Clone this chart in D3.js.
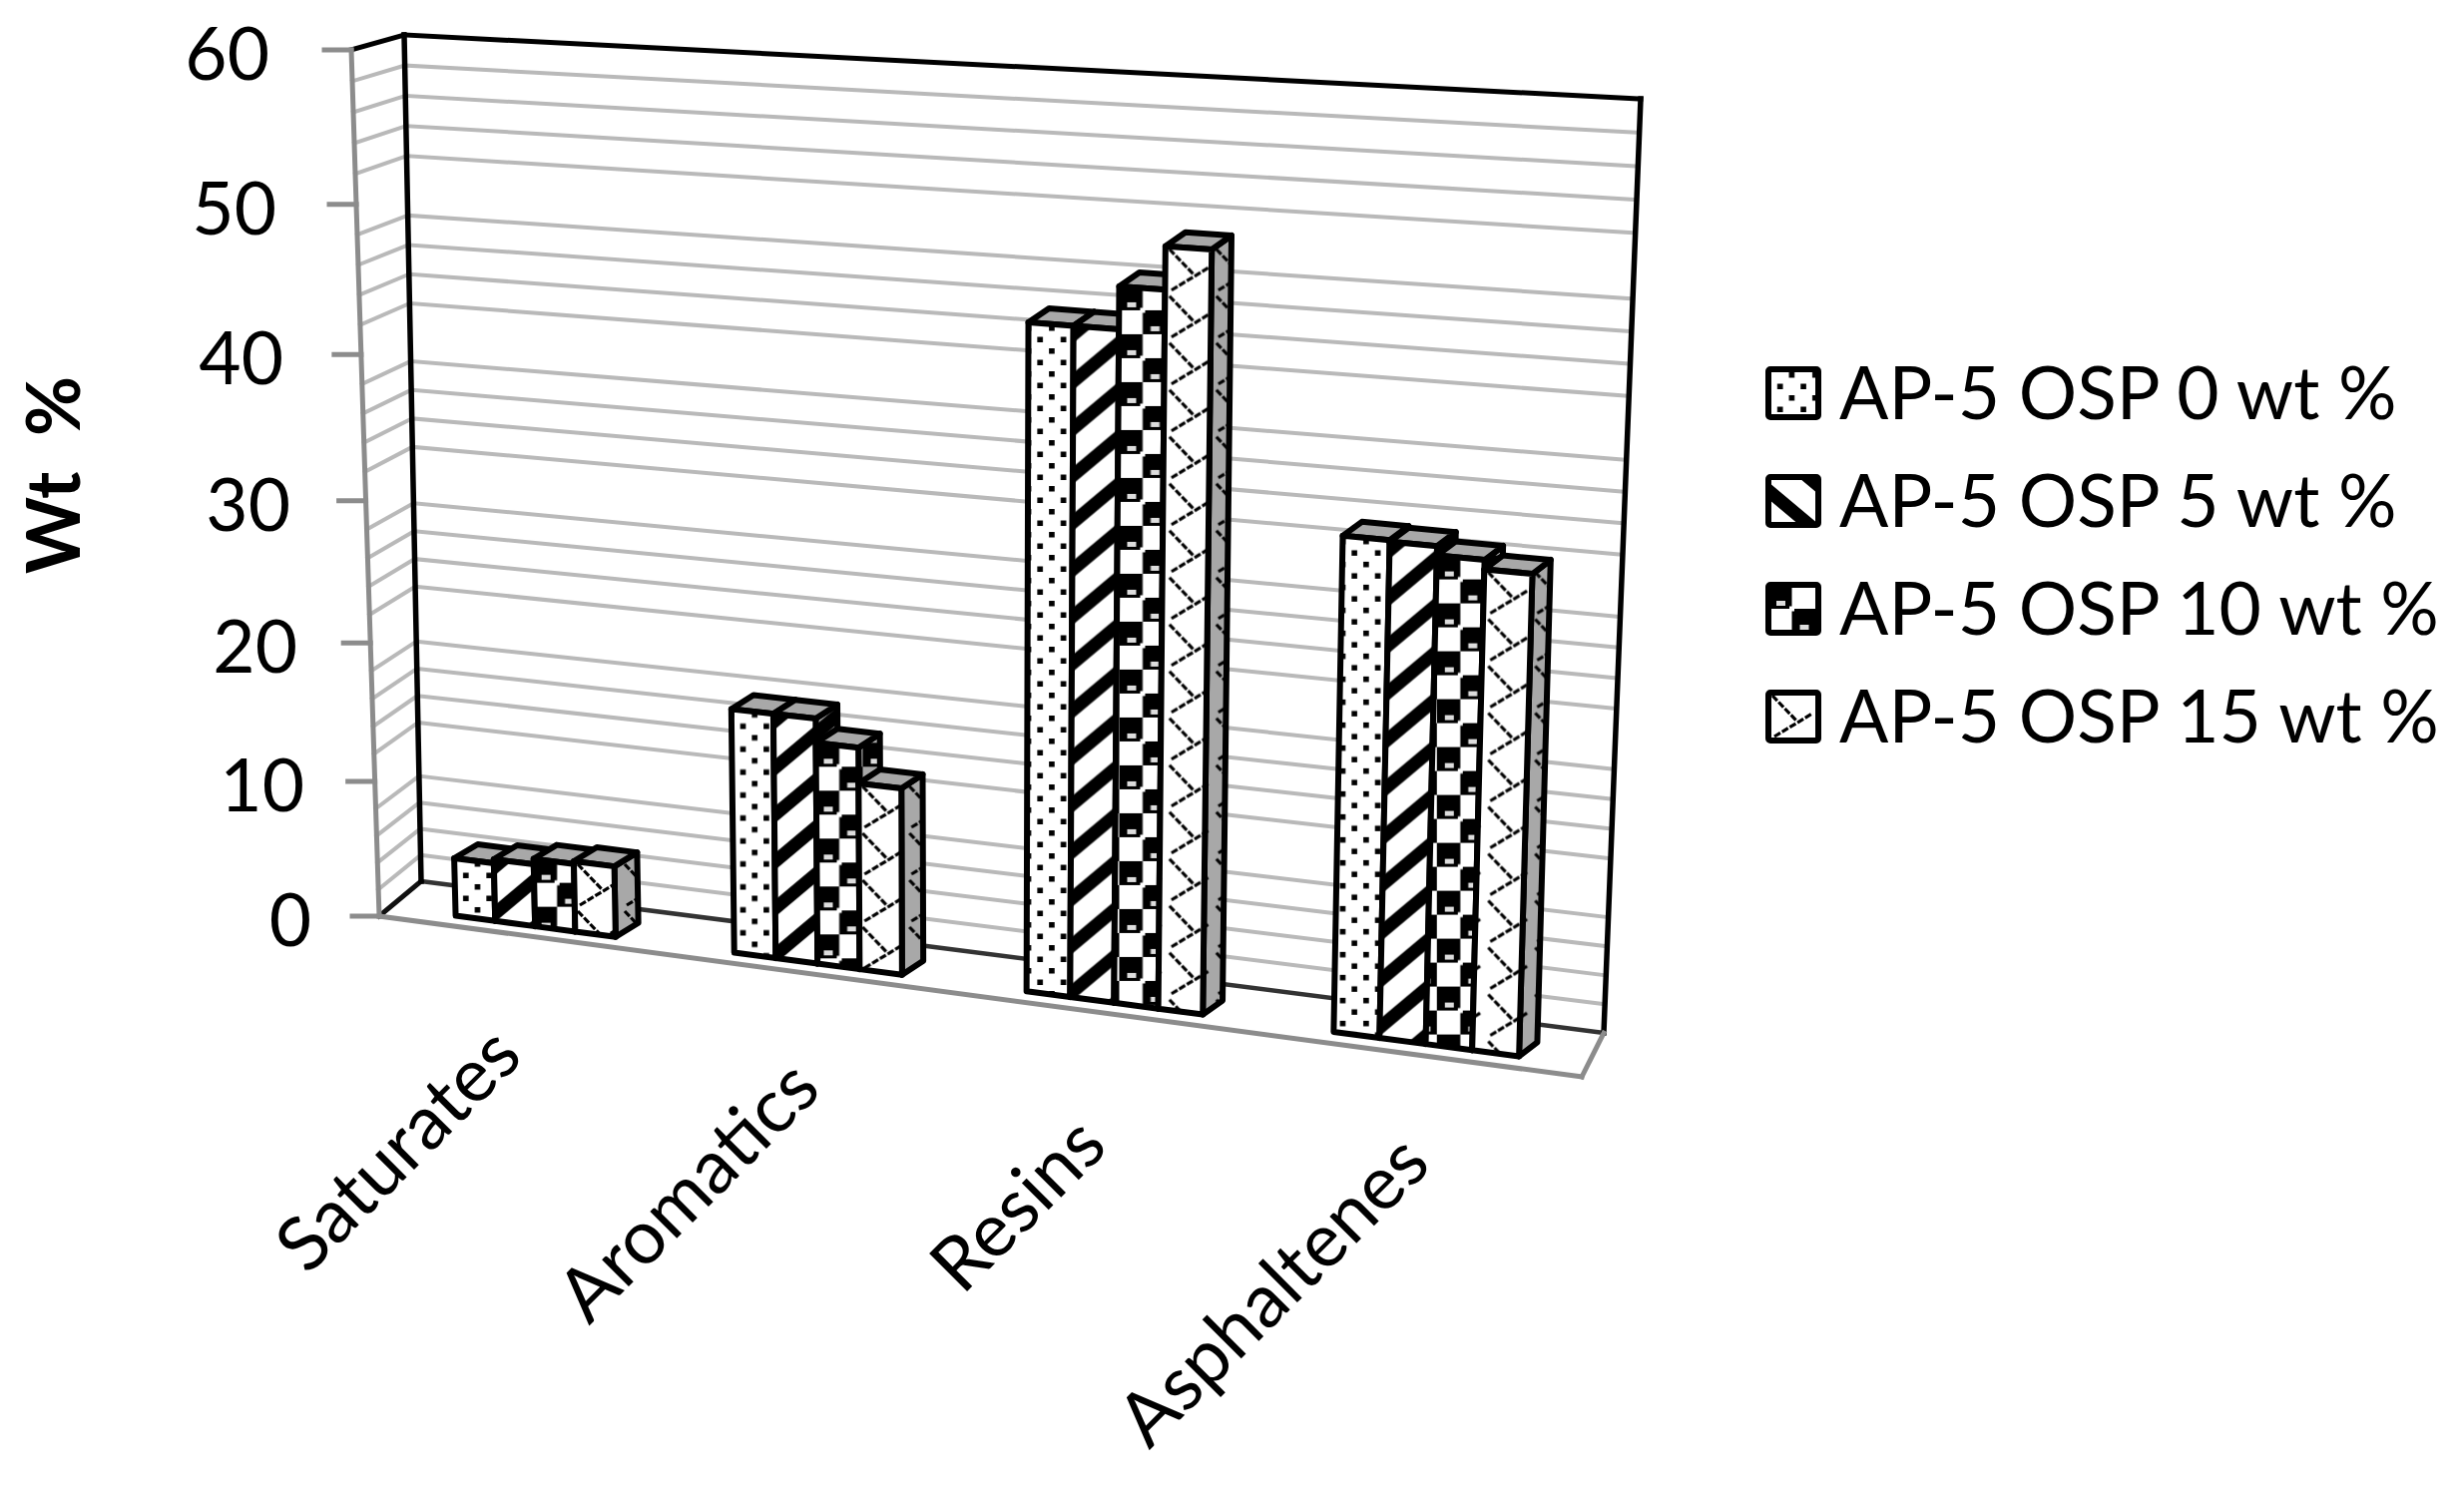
<!DOCTYPE html>
<html>
<head>
<meta charset="utf-8">
<script src="https://cdn.jsdelivr.net/npm/d3@7"></script>
<style>
  html, body { margin: 0; background: #fff; }
  text { font-family: Lato, "Open Sans", sans-serif; fill: #000; }
</style>
</head>
<body>
<script>
const categories = ["Saturates", "Aromatics", "Resins", "Asphaltenes"]
const seriesNames = ["AP-5 OSP 0 wt %", "AP-5 OSP 5 wt %", "AP-5 OSP 10 wt %", "AP-5 OSP 15 wt %"]
const osp0 = [4.3, 17.5, 45.2, 33.3]
const osp5 = [4.6, 17.5, 45.2, 33.2]
const osp10 = [5.0, 15.8, 47.9, 32.6]
const osp15 = [5.2, 13.3, 50.6, 32]
const seriesValues = [osp0, osp5, osp10, osp15]
const majorTicks = [0, 10, 20, 30, 40, 50, 60]
const minorTicks = d3.range(2, 60, 2).filter((d) => d % 10 !== 0)

const width = 2469
const height = 1491

const GRID = "#b9b9b9"
const AXIS = "#8c8c8c"
const SHADE = "#a8a8a8"

// Corners of the 3D box as Excel drew it: back wall and the plane at the front of the floor
const backWall = quadMap([422, 883], [1607, 1035], [1644, 99], [405, 35])
const frontWall = quadMap([380, 918], [1585, 1079], [1612, 125], [352, 50])

// Unit square -> quad, plain projective map (u along categories, v up)
function quadMap(p00, p10, p11, p01) {
  const dx1 = p10[0] - p11[0], dx2 = p01[0] - p11[0], sx = p00[0] - p10[0] + p11[0] - p01[0]
  const dy1 = p10[1] - p11[1], dy2 = p01[1] - p11[1], sy = p00[1] - p10[1] + p11[1] - p01[1]
  const den = dx1 * dy2 - dx2 * dy1
  const g = (sx * dy2 - dx2 * sy) / den
  const h = (dx1 * sy - sx * dy1) / den
  const a = p10[0] - p00[0] + g * p10[0], b = p01[0] - p00[0] + h * p01[0]
  const d = p10[1] - p00[1] + g * p10[1], e = p01[1] - p00[1] + h * p01[1]
  return (u, v) => {
    const w = g * u + h * v + 1
    return [(a * u + b * v + p00[0]) / w, (d * u + e * v + p00[1]) / w]
  }
}

const valueScale = d3.scaleLinear().domain([0, 60]).range([0, 1])
const catScale = d3.scaleBand().domain(categories).range([0.008, 1]).paddingInner(0.42).paddingOuter(0.21)
const barScale = d3.scaleBand().domain(d3.range(4)).range([0, catScale.bandwidth()])
const barFront = 0.74 // bar front plane, 0 = back wall, 1 = front edge of the floor

// f: 0 at the back wall, 1 at the front edge of the floor
function project(u, value, f) {
  const t = valueScale(value)
  const v = t / (t + (1 - t) * 1.04) // gridlines spread out a little going up
  const b = backWall(u, v)
  const a = frontWall(u, v)
  return [b[0] + (a[0] - b[0]) * f, b[1] + (a[1] - b[1]) * f]
}

const svg = d3.select("body").append("svg")
  .attr("width", width)
  .attr("height", height)
  .style("display", "block")

const defs = svg.append("defs")

function pattern(id, w, h, bg) {
  const p = defs.append("pattern")
    .attr("id", id)
    .attr("patternUnits", "userSpaceOnUse")
    .attr("width", w)
    .attr("height", h)
  p.append("rect").attr("width", w).attr("height", h).attr("fill", bg)
  return p
}

function addDots(id, bg) {
  const p = pattern(id, 23.4, 23, bg)
  p.append("path").attr("fill", "#000")
    .attr("d", "M-2.8,3h5.6v5.6h-5.6zM20.6,3h5.6v5.6h-5.6zM8.9,14.5h5.6v5.6h-5.6z")
}
function addStripes(id, bg) {
  const p = pattern(id, 56, 47, bg)
  p.append("path").attr("fill", "#000")
    .attr("d", "M0,47L56,0V17L0,64ZM0,0L56,-47V-30L0,17Z")
}
function addChecks(id, bg) {
  const p = pattern(id, 47, 48, bg)
  p.append("path").attr("fill", "#000").attr("d", "M0,0h23.5v24H0zM23.5,24H47v24H23.5z")
  p.append("path").attr("fill", "#ddd").attr("d", "M8,16h9v5H8zM31.5,40h9v5h-9z")
  p.append("path").attr("fill", "#fff").attr("d", "M21,21.5h5v5h-5z")
}
function addLattice(id, bg) {
  const p = pattern(id, 47, 47, bg)
  p.append("path").attr("fill", "none").attr("stroke", "#000")
    .attr("stroke-width", 3.2).attr("stroke-dasharray", "7 2")
    .attr("d", "M4,3L28,28M6,44L44,21")
}

const patternMakers = [addDots, addStripes, addChecks, addLattice]
patternMakers.forEach((make, i) => {
  make(`front${i}`, "#fff")
  make(`side${i}`, SHADE)
})

// walls and floor
const frame = svg.append("g").attr("fill", "none").attr("stroke-linecap", "square")
const line = (a, b, color, w) => frame.append("path")
  .attr("d", d3.line()([a, b]))
  .attr("stroke", color)
  .attr("stroke-width", w)

minorTicks.forEach((d) => {
  line(project(0, d, 0), project(1, d, 0), GRID, 4)
  line(project(0, d, 1), project(0, d, 0), GRID, 4)
})

line(project(0, 0, 0), project(1, 0, 0), "#333", 4.5)
line(project(0, 0, 1), project(0, 0, 0), "#111", 5)
line(project(0, 60, 1), project(0, 60, 0), "#000", 5)
line(project(0, 60, 0), project(1, 60, 0), "#000", 5)
line(project(0, 0, 0), project(0, 60, 0), "#000", 5.5)
line(project(1, 0, 0), project(1, 60, 0), "#000", 5.5)
line(project(0, 0, 1), project(0, 60, 1), AXIS, 5)
line(project(0, 0, 1), project(1, 0, 1), AXIS, 5)
line(project(1, 0, 1), project(1, 0, 0), AXIS, 5)

// value axis, labels drift right with the leaning axis
const labelRight = d3.scaleLinear().domain([60, 0]).range([270, 312])
majorTicks.forEach((d) => {
  const [x, y] = project(0, d, 1)
  line([x - 27, y], [x, y], AXIS, 5)
  svg.append("text")
    .attr("x", labelRight(d))
    .attr("y", y + 30)
    .attr("text-anchor", "end")
    .attr("font-size", 73)
    .text(d)
})

svg.append("text")
  .attr("transform", "translate(80,476) rotate(-90)")
  .attr("text-anchor", "middle")
  .attr("font-size", 74)
  .attr("font-weight", 700)
  .attr("xml:space", "preserve")
  .attr("textLength", 198)
  .attr("lengthAdjust", "spacingAndGlyphs")
  .text("Wt  %")

// category labels
const labelEnds = [[526, 1061], [825, 1094], [1112, 1151], [1436, 1169]]
categories.forEach((c, i) => {
  svg.append("text")
    .attr("transform", `translate(${labelEnds[i]}) rotate(-45)`)
    .attr("text-anchor", "end")
    .attr("font-size", 75)
    .text(c)
})

// bars, left to right so each one covers the side of the one before
const barPath = d3.line()
categories.forEach((c, ci) => {
  seriesValues.forEach((vals, si) => {
    const u0 = catScale(c) + barScale(si)
    const u1 = u0 + barScale.bandwidth()
    const val = vals[ci]
    // the depth of a bar on screen, a bit shallower toward the right of the chart
    const back = (p, u) => [p[0] + 24 - 6 * u, p[1] - 14]
    const fbl = project(u0, 0, barFront), fbr = project(u1, 0, barFront)
    const ftl = project(u0, val, barFront), ftr = project(u1, val, barFront)
    const bbr = back(fbr, u1)
    const btl = back(ftl, u0), btr = back(ftr, u1)

    // patterns are anchored on the bar so each bar starts its tile at its own corner
    const g = svg.append("g")
      .attr("transform", `translate(${ftl})`)
      .attr("stroke", "#000")
      .attr("stroke-width", 6)
      .attr("stroke-linejoin", "round")
    const local = (pts) => barPath(pts.map((p) => [p[0] - ftl[0], p[1] - ftl[1]])) + "Z"

    g.append("path").attr("d", local([ftr, btr, bbr, fbr])).attr("fill", `url(#side${si})`)
    g.append("path").attr("d", local([ftl, btl, btr, ftr])).attr("fill", SHADE)
    g.append("path").attr("d", local([ftl, ftr, fbr, fbl])).attr("fill", `url(#front${si})`)
  })
})

// legend
const legendY = d3.scalePoint().domain(seriesNames).range([394, 718])
seriesNames.forEach((name, i) => {
  const y = legendY(name)
  svg.append("g")
    .attr("transform", `translate(1772,${y - 24})`)
    .append("rect")
    .attr("width", 50)
    .attr("height", 48)
    // the stripes lean the other way in the legend key
    .attr("transform", i === 1 ? "translate(50,0) scale(-1,1)" : null)
    .attr("fill", `url(#front${i})`)
    .attr("stroke", "#000")
    .attr("stroke-width", 6)
    .attr("rx", 2)
  svg.append("text")
    .attr("x", 1843)
    .attr("y", y + 26)
    .attr("font-size", 73)
    .text(name)
})
</script>
</body>
</html>
